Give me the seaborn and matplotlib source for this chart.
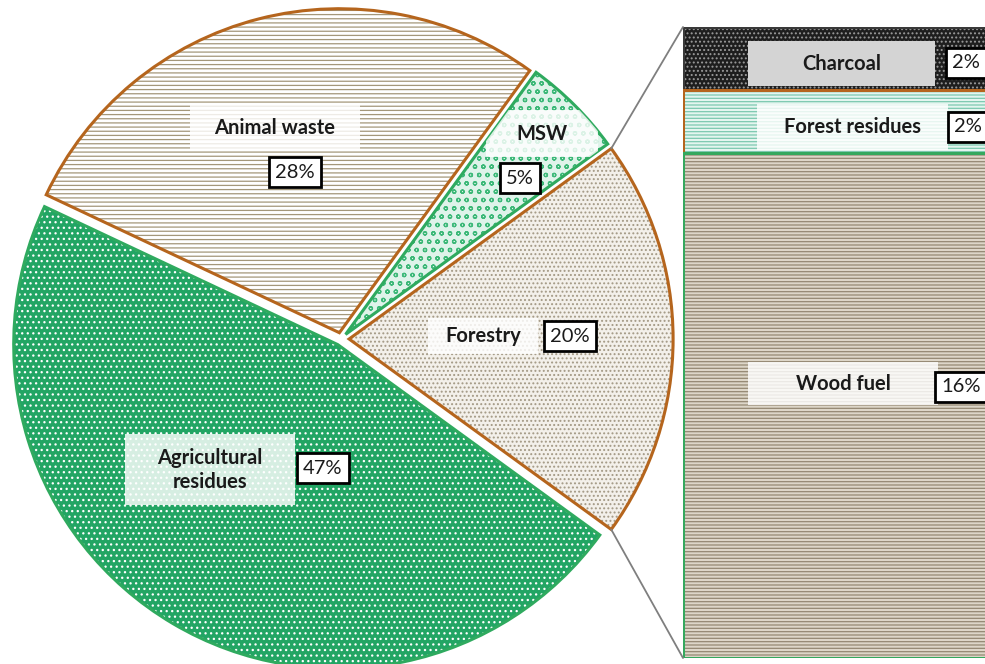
import numpy as np
import pandas as pd
import seaborn as sns
from matplotlib import pyplot as plt
from matplotlib.patches import ConnectionPatch, Rectangle

sns.set_theme(style="white")
plt.rcParams["font.family"] = ["Lato", "DejaVu Sans"]
plt.rcParams["hatch.linewidth"] = 0.9

# pie data (counter-clockwise from the exploded Forestry slice)
pie_labels = ["Forestry", "MSW", "Animal waste", "Agricultural\nresidues"]
pie_values = [20, 5, 28, 47]
pie_face = ["#f3f0ea", "#dff3ea", "#ffffff", "#22a564"]
pie_hatch_col = ["#a39985", "#3cb878", "#a4977a", "#ffffff"]
pie_hatch = ["....", "oo", "----", "..."]
pie_edge = ["#b5651d", "#2faa5f", "#b5651d", "#2faa5f"]

# bar-of-pie breakdown of Forestry (bottom to top)
bar_labels = ["Wood fuel", "Forest residues", "Charcoal"]
bar_values = [16, 2, 2]
bar_face = ["#ddd6c8", "#e4f5ef", "#1e1e1e"]
bar_hatch_col = ["#948873", "#7cc9b0", "#9a9a9a"]
bar_hatch = ["-----", "-----", "...."]
bar_edge = ["#34a85e", "#b5651d", "#3a3a3a"]

W, H = 985, 664
fig = plt.figure(figsize=(W / 100, H / 100), dpi=100)

# ---- pie ----
cx, cy, r = 341, 339, 324
ax = fig.add_axes([(cx - r) / W, (H - cy - r) / H, 2 * r / W, 2 * r / H])
explode = [0.025, 0.02, 0.02, 0.02]
wedges, _ = ax.pie(pie_values, startangle=-36, counterclock=True, explode=explode,
                   wedgeprops=dict(linewidth=0))
for w, fc, hc, h in zip(wedges, pie_face, pie_hatch_col, pie_hatch):
    w.set_facecolor(fc)
    w.set_edgecolor(hc)
    w.set_hatch(h)
outlines, _ = ax.pie(pie_values, startangle=-36, counterclock=True, explode=explode,
                     wedgeprops=dict(fill=False, linewidth=2.2))
for w, ec in zip(outlines, pie_edge):
    w.set_edgecolor(ec)
    w.set_zorder(5)
ax.set_xlim(-1, 1)
ax.set_ylim(-1, 1)

# ---- stacked bar ----
bax = fig.add_axes([683 / W, 6 / H, 380 / W, 631 / H])
cum = np.cumsum(bar_values)
bar_df = pd.DataFrame({"seg": bar_labels, "cum": cum, "g": ["Forestry"] * 3})
for i in reversed(range(len(bar_labels))):
    sub = bar_df.iloc[[i]]
    sns.barplot(data=sub, x="g", y="cum", ax=bax, color=bar_face[i], width=1,
                linewidth=0, saturation=1)
    p = bax.patches[-1]
    p.set_facecolor(bar_face[i])
    p.set_edgecolor(bar_hatch_col[i])
    p.set_hatch(bar_hatch[i])
    sns.barplot(data=sub, x="g", y="cum", ax=bax, width=1, fill=False,
                linewidth=2.2, edgecolor=bar_edge[i])
bax.set_xlim(-0.5, 0.5)
bax.set_ylim(0, sum(bar_values))
bax.axis("off")

# connector lines from Forestry slice to bar
fw = wedges[0]
for ang, yb in [(fw.theta2, sum(bar_values)), (fw.theta1, 0)]:
    px = fw.center[0] + fw.r * np.cos(np.radians(ang))
    py = fw.center[1] + fw.r * np.sin(np.radians(ang))
    con = ConnectionPatch(xyA=(px, py), coordsA=ax.transData,
                          xyB=(-0.5, yb), coordsB=bax.transData,
                          color="#7f7f7f", linewidth=1.3)
    fig.add_artist(con)

# ---- labels ----
pct_box = dict(boxstyle="square,pad=0.3", facecolor="white", edgecolor="black", linewidth=2)


def name_label(box, s, fc="white", alpha=0.82, clip=None):
    x0, y0, x1, y1 = box
    rect = Rectangle((x0 / W, 1 - y1 / H), (x1 - x0) / W, (y1 - y0) / H,
                     transform=fig.transFigure, facecolor=fc, edgecolor="none",
                     alpha=alpha, zorder=3)
    fig.add_artist(rect)
    if clip is not None:
        rect.set_clip_path(clip)
    fig.text((x0 + x1) / 2 / W, 1 - (y0 + y1) / 2 / H, s, ha="center", va="center",
             fontsize=14.5, fontweight="bold", color="#1a1a1a", linespacing=1.25,
             zorder=4)


def pct_label(x, y, s):
    fig.text(x / W, 1 - y / H, s, ha="center", va="center", fontsize=14.5,
             color="#1a1a1a", bbox=pct_box, zorder=4)


name_box = {"Forestry": (428, 318, 538, 354), "MSW": (486, 110, 598, 157),
            "Animal waste": (190, 105, 360, 150),
            "Agricultural\nresidues": (125, 434, 295, 505)}
pct_pos = {"Forestry": (570, 336), "MSW": (520, 178), "Animal waste": (295, 172),
           "Agricultural\nresidues": (323, 468)}
for w, lab, v in zip(wedges, pie_labels, pie_values):
    name_label(name_box[lab], lab, clip=w if lab == "MSW" else None)
    pct_label(*pct_pos[lab], f"{v}%")

bname_box = {"Charcoal": (748, 41, 935, 86), "Forest residues": (757, 104, 948, 150),
             "Wood fuel": (748, 362, 938, 405)}
bpct_pos = {"Charcoal": (966, 63), "Forest residues": (968, 127), "Wood fuel": (961, 387)}
for lab, v in zip(bar_labels, bar_values):
    if lab == "Charcoal":
        name_label(bname_box[lab], lab, fc="#d4d4d4", alpha=1)
    else:
        name_label(bname_box[lab], lab)
    pct_label(*bpct_pos[lab], f"{v}%")

fig.savefig("out.png", dpi=100)
